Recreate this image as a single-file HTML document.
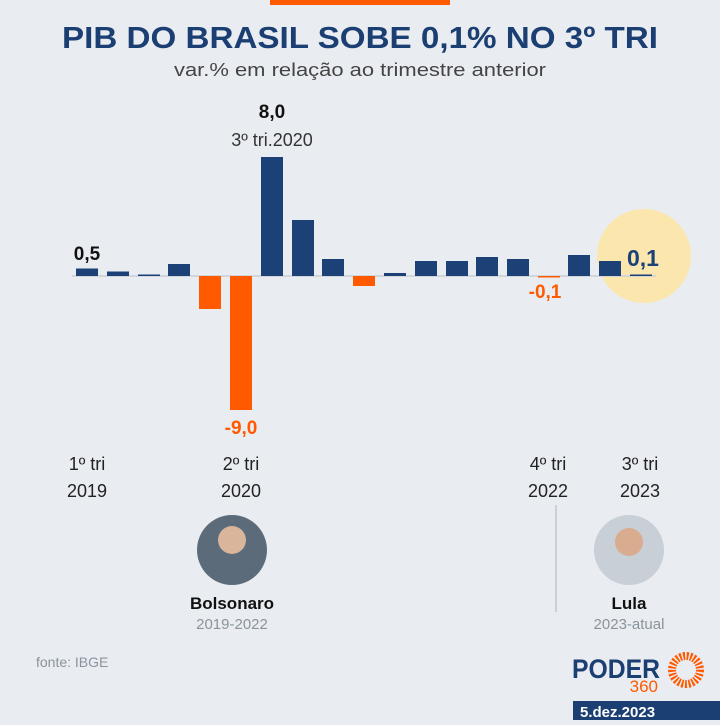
<!DOCTYPE html>
<html><head><meta charset="utf-8"><style>
body{margin:0;width:720px;height:720px;background:#e9edf1;overflow:hidden;font-family:"Liberation Sans",sans-serif}
</style></head><body>
<svg width="720" height="720" viewBox="0 0 720 720" xmlns="http://www.w3.org/2000/svg" font-family="Liberation Sans, sans-serif">
<rect width="720" height="720" fill="#e9edf1"/>
<rect x="270" y="0" width="180" height="5" fill="#ff5a00"/>
<text x="62" y="48" font-size="31" font-weight="bold" fill="#1b3f72" textLength="596" lengthAdjust="spacingAndGlyphs">PIB DO BRASIL SOBE 0,1% NO 3º TRI</text>
<text x="174" y="76" font-size="18" fill="#444" textLength="372" lengthAdjust="spacingAndGlyphs">var.% em relação ao trimestre anterior</text>
<circle cx="644" cy="256" r="47" fill="#fbe6ae"/>
<line x1="72" y1="276" x2="656" y2="276" stroke="#c9ced6" stroke-width="1.5"/>
<g fill="#1b4177">
<rect x="76" y="268.5" width="22" height="7.5"/>
<rect x="107" y="271.5" width="22" height="4.5"/>
<rect x="138" y="274.5" width="22" height="1.5"/>
<rect x="168" y="264" width="22" height="12"/>
<rect x="261" y="157" width="22" height="119"/>
<rect x="292" y="220" width="22" height="56"/>
<rect x="322" y="259" width="22" height="17"/>
<rect x="384" y="273" width="22" height="3"/>
<rect x="415" y="261" width="22" height="15"/>
<rect x="446" y="261" width="22" height="15"/>
<rect x="476" y="257" width="22" height="19"/>
<rect x="507" y="259" width="22" height="17"/>
<rect x="568" y="255" width="22" height="21"/>
<rect x="599" y="261" width="22" height="15"/>
<rect x="630" y="274.5" width="22" height="1.5"/>
</g>
<g fill="#ff5a00">
<rect x="199" y="276" width="22" height="33"/>
<rect x="230" y="276" width="22" height="134"/>
<rect x="353" y="276" width="22" height="10"/>
<rect x="538" y="276" width="22" height="1.5"/>
</g>
<text x="87" y="260" text-anchor="middle" font-size="19" font-weight="bold" fill="#111">0,5</text>
<text x="272" y="118" text-anchor="middle" font-size="19" font-weight="bold" fill="#111">8,0</text>
<text x="272" y="146" text-anchor="middle" font-size="18" fill="#333">3º tri.2020</text>
<text x="241" y="434" text-anchor="middle" font-size="19" font-weight="bold" fill="#ff5a00">-9,0</text>
<text x="545" y="298" text-anchor="middle" font-size="19" font-weight="bold" fill="#ff5a00">-0,1</text>
<text x="643" y="266" text-anchor="middle" font-size="23" font-weight="bold" fill="#1b4177">0,1</text>
<g font-size="18" fill="#222" text-anchor="middle">
<text x="87" y="470">1º tri</text><text x="87" y="497">2019</text>
<text x="241" y="470">2º tri</text><text x="241" y="497">2020</text>
<text x="548" y="470">4º tri</text><text x="548" y="497">2022</text>
<text x="640" y="470">3º tri</text><text x="640" y="497">2023</text>
</g>
<line x1="556" y1="505" x2="556" y2="612" stroke="#aab2bd" stroke-width="1"/>
<circle cx="232" cy="550" r="35" fill="#5b6b7a"/>
<circle cx="232" cy="540" r="14" fill="#d9b59b"/>
<circle cx="629" cy="550" r="35" fill="#c9cfd6"/>
<circle cx="629" cy="542" r="14" fill="#d9ab8f"/>
<text x="232" y="609" text-anchor="middle" font-size="17" font-weight="bold" fill="#111">Bolsonaro</text>
<text x="232" y="629" text-anchor="middle" font-size="15" fill="#8a939d">2019-2022</text>
<text x="629" y="609" text-anchor="middle" font-size="17" font-weight="bold" fill="#111">Lula</text>
<text x="629" y="629" text-anchor="middle" font-size="15" fill="#8a939d">2023-atual</text>
<text x="36" y="667" font-size="14" fill="#8a939d">fonte: IBGE</text>
<text x="572" y="678" font-size="27" font-weight="bold" fill="#1b3f72" textLength="88" lengthAdjust="spacingAndGlyphs">PODER</text>
<text x="658" y="692" text-anchor="end" font-size="17" fill="#ff5a00">360</text>
<circle cx="686" cy="670" r="14" fill="none" stroke="#ff5a00" stroke-width="8" stroke-dasharray="2 1.5"/>
<rect x="573" y="701" width="147" height="19" fill="#1b3f72"/>
<text x="580" y="717" font-size="15" font-weight="bold" fill="#fff">5.dez.2023</text>
</svg>
</body></html>
